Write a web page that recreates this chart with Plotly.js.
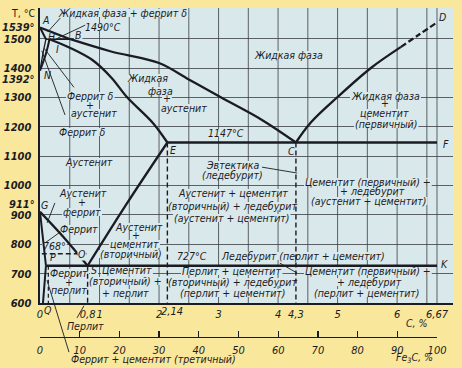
<!DOCTYPE html>
<html><head><meta charset="utf-8">
<script src="https://cdn.plot.ly/plotly-3.0.1.min.js"></script>
<style>
html,body{margin:0;padding:0;background:#F9E79B;overflow:hidden}
#chart svg text{font-style:italic !important}
#chart .annotation.upright text{font-style:normal !important}
</style>
</head><body><div id="chart" style="width:462px;height:368px;"></div>
<script>
// ---------- data ----------
const AB_C = [0, 0.51],            AB_T = [1539, 1499];
const BC_C = [0.51, 1.18, 2.0, 2.5, 3.03, 3.73, 4.3];
const BC_T = [1499, 1458, 1418, 1362, 1302, 1224, 1147];
const CD_C = [4.3, 4.55, 5.0, 5.56, 6.06];
const CD_T = [1147, 1215, 1302, 1401, 1472];
const CDend_C = [6.06, 6.37, 6.67], CDend_T = [1472, 1515, 1556];
const AH_C = [0, 0.1],             AH_T = [1539, 1499];
const HJB_C = [0.1, 0.51],         HJB_T = [1499, 1499];
const HN_C = [0.1, 0.05, 0],       HN_T = [1499, 1450, 1392];
const JN_C = [0.16, 0.1, 0],       JN_T = [1499, 1450, 1392];
const JE_C = [0.16, 0.5, 0.88, 1.2, 1.46, 1.9, 2.14];
const JE_T = [1499, 1470, 1428, 1368, 1302, 1213, 1147];
const ECF_C = [2.14, 6.67],        ECF_T = [1147, 1147];
const ES_C = [0.8, 1.45, 2.14],    ES_T = [727, 936, 1147];
const GS_C = [0, 0.39, 0.8],       GS_T = [911, 826, 727];
const GP_C = [0, 0.1],             GP_T = [911, 727];
const PQ_C = [0.1, 0.05],          PQ_T = [727, 600];
const PSK_C = [0.1, 6.67],         PSK_T = [727, 727];
const MO_C = [0.03, 0.82],         MO_T = [768, 768];
const dashS_C = [0.8, 0.8],        dashS_T = [727, 600];
const dashE_C = [2.14, 2.14],      dashE_T = [1147, 600];
const dashC_C = [4.3, 4.3],        dashC_T = [1147, 600];
const dashQ_C = [0.14, 0.14],      dashQ_T = [727, 600];

const gridC = [0.5,1,1.5,2,2.5,3,3.5,4,4.5,5,5.5,6,6.5,6.67];
const tickT = [1500,1400,1300,1200,1100,1000,900,800,700,600];
const tickC = [0,0.8,1,2,3,4,4.3,5,6,6.67];
const tickCText = ['0','0,8','1','2','3','4','4,3','5','6','6,67'];
const tickE = 2.14, tickEText = '2,14';
const tickFe3C = [0,10,20,30,40,50,60,70,80,90,100];
const tickFe3CText = ['0','10','20','30','40','50','60','70','80','90','100'];

// ---------- styles ----------
const PLOT_BG = '#D9E8EB', PAPER_BG = '#F9E79B', INK = '#1b1b24', GRID = '#3a3d44';
const FAM = '"DejaVu Sans Condensed", "DejaVu Sans", sans-serif';
const XR = [0, 6.939], YR = [600, 1605.4], YDOM = [0.10334, 1];

function ln(xs, ys, w, dash, shape) {
  return {x: xs, y: ys, type: 'scatter', mode: 'lines', hoverinfo: 'skip', showlegend: false,
    line: {color: INK, width: w, dash: dash || 'solid', shape: shape || 'linear', smoothing: 1}};
}
const traces = [
  ln(AB_C, AB_T, 2.3), ln(BC_C, BC_T, 2.3, null, 'spline'),
  ln(CD_C, CD_T, 2.3, null, 'spline'), ln(CDend_C, CDend_T, 2.3, '6px,3px', 'spline'),
  ln(AH_C, AH_T, 2.0), ln(HJB_C, HJB_T, 1.6), ln(HN_C, HN_T, 1.3, null, 'spline'),
  ln(JN_C, JN_T, 2.0, null, 'spline'), ln(JE_C, JE_T, 2.3, null, 'spline'),
  ln(ECF_C, ECF_T, 2.3), ln(ES_C, ES_T, 2.3, null, 'spline'), ln(GS_C, GS_T, 2.3, null, 'spline'),
  ln(GP_C, GP_T, 2.0), ln(PQ_C, PQ_T, 2.0), ln(PSK_C, PSK_T, 2.3),
  ln(MO_C, MO_T, 1.4, '5px,3px'),
  ln(dashS_C, dashS_T, 1.4, '5px,3px'), ln(dashE_C, dashE_T, 1.4, '5px,3px'),
  ln(dashC_C, dashC_T, 1.4, '5px,3px'), ln(dashQ_C, dashQ_T, 1.2, '4px,3px'),
  {x: [0], y: [0], xaxis: 'x2', yaxis: 'y2', type: 'scatter', mode: 'markers',
   marker: {opacity: 0}, hoverinfo: 'skip', showlegend: false}
];

const maskFlags = [];
function tx(text, x, y, o) {
  o = o || {};
  maskFlags.push(!o.xref && !o.nomask);
  const a = {text: text, x: x, y: y, xref: o.xref || 'x', yref: o.yref || 'y', showarrow: false,
    font: {family: FAM, size: o.size || 10.5, color: INK, style: 'italic', weight: o.weight || 'normal'},
    borderpad: 0, xanchor: o.xanchor || 'center', yanchor: 'middle',
    yshift: o.yshift || 0, xshift: o.xshift || 0};
  if (o.bg) a.bgcolor = o.bg;
  return a;
}
const P = {xref: 'paper', yref: 'paper'};
const annotations = [
  tx('Жидкая фаза + феррит δ', 1.39, 1588),
  tx('1490°C', 1.06, 1541),
  tx('Жидкая фаза', 4.18, 1445),
  tx('Жидкая', 1.80, 1367), tx('фаза', 2.03, 1324), tx('+', 2.13, 1298), tx('аустенит', 2.42, 1266),
  tx('Жидкая фаза', 5.80, 1307), tx('+', 5.80, 1280), tx('цементит', 5.78, 1248), tx('(первичный)', 5.81, 1210),
  tx('Феррит δ', 0.84, 1304), tx('+', 0.84, 1276), tx('аустенит', 0.91, 1247),
  tx('Феррит δ', 0.71, 1183),
  tx('1147°C', 3.12, 1179),
  tx('Аустенит', 0.82, 1081),
  tx('Эвтектика', 3.24, 1070), tx('(ледебурит)', 3.23, 1036),
  tx('Цементит (первичный) +', 5.51, 1014), tx('+ ледебурит', 5.59, 982), tx('(аустенит + цементит)', 5.53, 949),
  tx('Аустенит + цементит', 3.24, 975), tx('(вторичный) + ледебурит', 3.24, 931), tx('(аустенит + цементит)', 3.23, 890),
  tx('Аустенит', 0.72, 976), tx('+', 0.71, 945), tx('феррит', 0.71, 910),
  tx('Феррит', 0.66, 852),
  tx('Аустенит', 1.67, 860), tx('+', 1.62, 832), tx('цементит', 1.58, 801), tx('(вторичный)', 1.53, 767),
  tx('768°', 0.24, 794),
  tx('727°C', 2.55, 760),
  tx('Ледебурит (перлит + цементит)', 4.42, 760),
  tx('Цементит', 1.47, 712), tx('(вторичный) +', 1.44, 675), tx('+ перлит', 1.43, 634),
  tx('Перлит + цементит', 3.23, 708), tx('(вторичный) + ледебурит', 3.23, 670), tx('(перлит + цементит)', 3.23, 633),
  tx('Цементит (первичный) +', 5.51, 708), tx('+ ледебурит', 5.54, 671), tx('(перлит + цементит)', 5.49, 633),
  tx('Феррит', 0.48, 701), tx('+', 0.48, 672), tx('перлит', 0.48, 643),
  // point letters
  tx('A', 0.09, 1566), tx('H', 0.20, 1505), tx('B', 0.64, 1512), tx('I', 0.29, 1466),
  tx('N', 0.12, 1377), tx('D', 6.77, 1575), tx('E', 2.23, 1121), tx('C', 4.22, 1118),
  tx('F', 6.82, 1142), tx('G', 0.08, 934), tx('O', 0.71, 768, {bg: PLOT_BG, nomask: true}), tx('P', 0.22, 757),
  tx('S', 0.91, 712), tx('K', 6.79, 733),
  // outside the plot
  tx(tickEText, tickE, 0.078, {xref: 'x', yref: 'paper', size: 11, xshift: 5}),
  tx('Q', 0.019, 0.082, P),
  tx('Перлит', 0.111, 0.033, P),
  tx('C, %', 0.913, 0.043, P),
  tx('Fe<sub>3</sub>C, %', 0.906, -0.064, P),
  tx('Феррит + цементит (третичный)', 0.274, -0.067, P),
  tx('1539°', -0.01, 1539, {xref: 'paper', xanchor: 'right', weight: 'bold', size: 11}),
  tx('1392°', -0.01, 1392, {xref: 'paper', xanchor: 'right', weight: 'bold', size: 11, yshift: -9}),
  tx('911°', -0.01, 911, {xref: 'paper', xanchor: 'right', weight: 'bold', size: 11, yshift: 7})
];
const T_LABEL_INDEX = annotations.length;
annotations.push({text: 'T, °C', x: -0.041, y: 0.985, xref: 'paper', yref: 'paper', showarrow: false,
  font: {family: FAM, size: 10.5, color: INK}, xanchor: 'center', yanchor: 'middle'});
maskFlags.push(false);

const shapes = [];
gridC.forEach(function (c) {
  shapes.push({type: 'line', xref: 'x', yref: 'y', x0: c, x1: c, y0: 600, y1: 1606, layer: 'below',
    line: {color: GRID, width: 0.8}});
});
function leader(x0, y0, x1, y1, xr, yr) {
  shapes.push({type: 'line', xref: xr || 'x', yref: yr || 'y', x0: x0, y0: y0, x1: x1, y1: y1,
    line: {color: INK, width: 0.9}});
}
leader(0.34, 1571, 0.13, 1524);
leader(0.76, 1547, 0.30, 1503);
leader(0.07, 1468, 0.57, 1335);
leader(0.03, 1460, 0.42, 1241);
leader(3.73, 1063, 4.32, 1043);
leader(4.03, 736, 4.32, 702);
leader(0.25, 941, 0.12, 873);
leader(0.34, 842, 0.08, 804);
leader(0.0896, 0.058, 0.1065, 0.095, 'paper', 'paper');
leader(0.0169, 0.173, 0.0702, -0.046, 'paper', 'paper');

const layout = {
  width: 462, height: 368,
  margin: {l: 40, r: 9, t: 8, b: 31},
  paper_bgcolor: PAPER_BG, plot_bgcolor: PLOT_BG,
  showlegend: false,
  xaxis: {domain: [0, 1], range: XR, anchor: 'y', showgrid: false, zeroline: false,
    showline: true, linecolor: INK, linewidth: 1.5, ticks: '', tickangle: 0,
    tickmode: 'array', tickvals: tickC, ticktext: tickCText, ticklabelstandoff: 0,
    tickfont: {family: FAM, size: 11, color: INK, style: 'italic'}},
  yaxis: {domain: YDOM, range: YR, showgrid: true, gridcolor: GRID, gridwidth: 0.8,
    zeroline: false, showline: true, linecolor: INK, linewidth: 2.5, ticks: '',
    tickmode: 'array', tickvals: tickT, ticklabelstandoff: 4,
    tickfont: {family: FAM, size: 11, color: INK, style: 'italic', weight: 'bold'}},
  xaxis2: {domain: [0, 0.9613], range: [0, 100], anchor: 'y2', showgrid: false, zeroline: false,
    showline: true, linecolor: INK, linewidth: 1.3, ticks: 'inside', ticklen: 6, tickwidth: 1.3, tickcolor: INK,
    tickmode: 'array', tickvals: tickFe3C, ticktext: tickFe3CText, ticklabelstandoff: 2, tickangle: 0,
    tickfont: {family: FAM, size: 11, color: INK, style: 'italic'}},
  yaxis2: {domain: [0, 0.0005], range: [0, 1], visible: false},
  shapes: shapes,
  annotations: annotations
};
function markUpright(gd) {
  gd.querySelectorAll('.annotation').forEach(function (g) {
    if (+g.getAttribute('data-index') === T_LABEL_INDEX) g.classList.add('upright');
  });
}
Plotly.newPlot('chart', traces, layout, {staticPlot: true, displayModeBar: false}).then(function (gd) {
  const fl = gd._fullLayout, sz = fl._size;
  const box = gd.getBoundingClientRect();
  const xL = sz.l, xW = sz.w;
  const yTop = sz.t + sz.h * (1 - YDOM[1]), yLen = sz.h * (YDOM[1] - YDOM[0]);
  const toX = function (px) { return XR[0] + (px - xL) / xW * (XR[1] - XR[0]); };
  const toY = function (py) { return YR[1] - (py - yTop) / yLen * (YR[1] - YR[0]); };
  const masks = [];
  markUpright(gd);
  gd.querySelectorAll('.annotation').forEach(function (g) {
    const idx = +g.getAttribute('data-index');
    if (!maskFlags[idx]) return;
    const t = g.querySelector('text');
    if (!t) return;
    const r = t.getBoundingClientRect();
    const l = r.left - box.left - 1, rr = r.right - box.left + 1;
    const tp = r.top - box.top + 2, bt = r.bottom - box.top - 2;
    masks.push({type: 'rect', xref: 'x', yref: 'y', layer: 'between',
      x0: toX(l), x1: toX(rr), y0: toY(bt), y1: toY(tp),
      fillcolor: PLOT_BG, line: {width: 0}});
  });
  return Plotly.relayout(gd, {shapes: masks.concat(shapes)}).then(function () { markUpright(gd); });
});
</script></body></html>
